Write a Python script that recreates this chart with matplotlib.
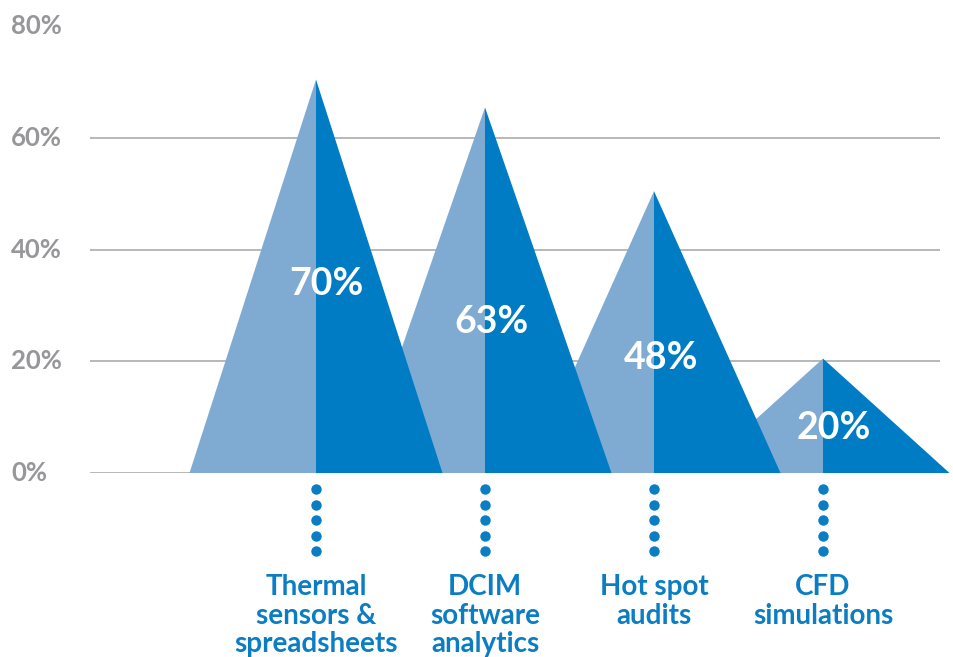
import matplotlib
matplotlib.use("Agg")
import matplotlib.pyplot as plt
from matplotlib.patches import Polygon

categories = ["Thermal\nsensors &\nspreadsheets", "DCIM\nsoftware\nanalytics", "Hot spot\naudits", "CFD\nsimulations"]
peak_heights = [70.5, 65.5, 50.5, 20.5]
value_labels = ["70%", "63%", "48%", "20%"]
yticks = [0, 20, 40, 60, 80]
ytick_labels = ["0%", "20%", "40%", "60%", "80%"]

# layout: baseline of value labels (axis units) and x offsets (px)
label_base_y = [31.9, 25.1, 18.6, 6.1]
label_dx_px = [10, 7, 7, 11]

LIGHT = "#7FABD3"
DARK = "#007CC4"
TEXT_BLUE = "#0A7DC3"
GRAY_TXT = "#97979A"
GRID = "#ABABAB"

plt.rcParams['font.family'] = ['Lato', 'DejaVu Sans']

fig = plt.figure(figsize=(9.54, 6.57), dpi=100)
W, H = 954, 657
ax = fig.add_axes([90 / W, 1 - 473 / H, 850 / W, (473 - 26.5) / H])
spacing = 169.0
x0 = 316.0
ax.set_xlim((90 - x0) / spacing, (940 - x0) / spacing)
ax.set_ylim(0, 80)
for s in ax.spines.values():
    s.set_visible(False)
ax.set_xticks([])
ax.set_yticks([])

for yv in yticks:
    ax.axhline(yv, color=GRID, lw=1.2, zorder=0)

half = 126.5 / spacing
n = len(categories)
for i in reversed(range(n)):
    h = peak_heights[i]
    z = 10 + (n - i) * 2
    ax.add_patch(Polygon([(i - half, 0), (i, h), (i, 0)], closed=True,
                         facecolor=LIGHT, edgecolor='none', zorder=z, clip_on=False))
    ax.add_patch(Polygon([(i, 0), (i, h), (i + half, 0)], closed=True,
                         facecolor=DARK, edgecolor='none', zorder=z + 1, clip_on=False))

for i in range(n):
    ax.text(i + label_dx_px[i] / spacing, label_base_y[i], value_labels[i],
            color="white", fontsize=27, fontweight='bold', ha='center', va='baseline',
            zorder=30)

px_per_unit = (473 - 26.5) / 80
dot_px = [489, 505, 520, 536, 551]
for i in range(n):
    ys = [(473 - p) / px_per_unit for p in dot_px]
    ax.plot([i] * len(ys), ys, 'o', color=TEXT_BLUE, ms=7.5, mec='none',
            clip_on=False, zorder=5)
    ax.text(i, (473 - 574) / px_per_unit, categories[i], color=TEXT_BLUE,
            fontsize=20, fontweight='bold', ha='center', va='top',
            linespacing=1.12, clip_on=False)

for yv, lab in zip(yticks, ytick_labels):
    fig.text(11 / W, 1 - (473 - yv * px_per_unit) / H, lab, color=GRAY_TXT,
             fontsize=18.5, fontweight='bold', ha='left', va='center')

fig.savefig("out.png", dpi=100)
